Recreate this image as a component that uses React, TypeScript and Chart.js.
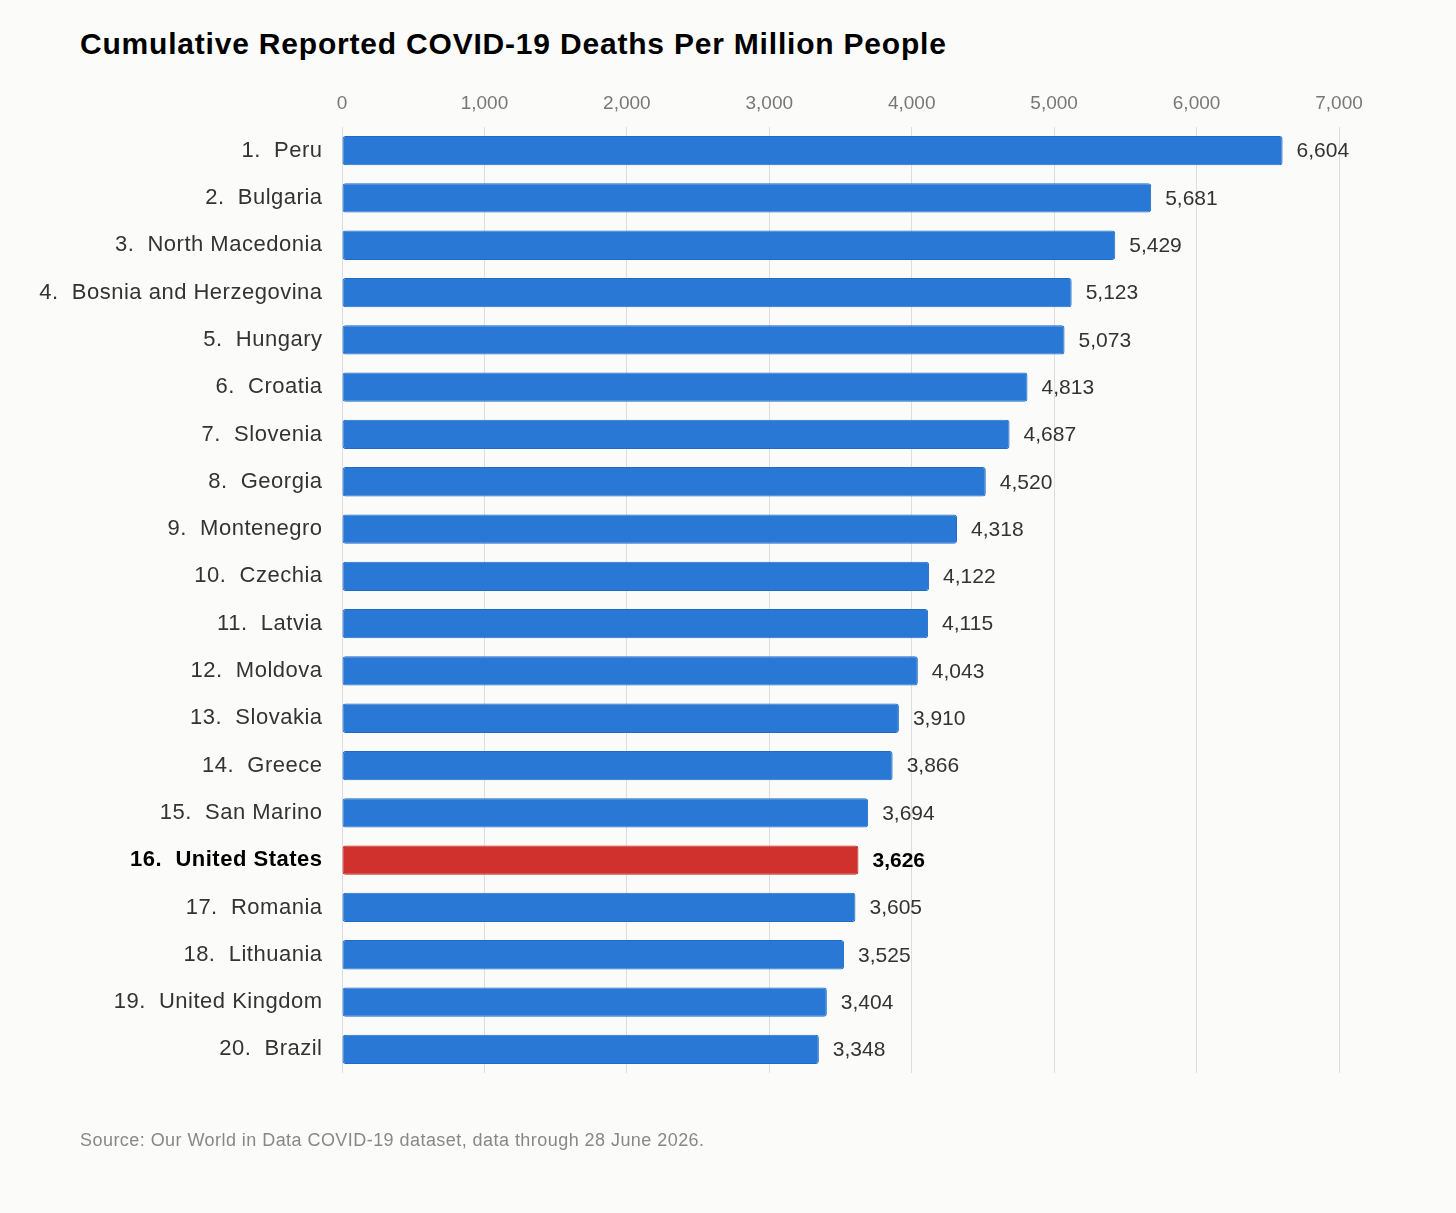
import { useEffect, useRef } from "react"
import { Chart, registerables } from "chart.js"

Chart.register(...registerables)

const countries = [
  "Peru",
  "Bulgaria",
  "North Macedonia",
  "Bosnia and Herzegovina",
  "Hungary",
  "Croatia",
  "Slovenia",
  "Georgia",
  "Montenegro",
  "Czechia",
  "Latvia",
  "Moldova",
  "Slovakia",
  "Greece",
  "San Marino",
  "United States",
  "Romania",
  "Lithuania",
  "United Kingdom",
  "Brazil",
]

const deathsPerMillion = [
  6604, 5681, 5429, 5123, 5073, 4813, 4687, 4520, 4318, 4122, 4115, 4043, 3910, 3866, 3694, 3626, 3605,
  3525, 3404, 3348,
]

const highlightCountry = "United States"

const xMax = 7000
const xStep = 1000

const FONT = "'Liberation Sans', Arial, Helvetica, sans-serif"
const BLUE = "#2a78d6"
const BLUE_EDGE = "#1f6cc8"
const RED = "#d0312d"
const RED_EDGE = "#b82622"

const labels = countries.map((c, i) => `${i + 1}.  ${c}`)
const highlightIndex = countries.indexOf(highlightCountry)

const fmt = (v: number) => v.toLocaleString("en-US")

// country labels are a touch more tracked than the numbers
const labelSpacing = {
  id: "labelSpacing",
  beforeDraw(chart: any) {
    chart.ctx.letterSpacing = "0.5px"
  },
  beforeDatasetsDraw(chart: any) {
    chart.ctx.letterSpacing = "0px"
  },
}

// draws the value next to each bar
const valueLabels = {
  id: "valueLabels",
  afterDatasetsDraw(chart: any) {
    const ctx = chart.ctx
    const meta = chart.getDatasetMeta(0)
    ctx.save()
    ctx.textBaseline = "middle"
    ctx.textAlign = "left"
    meta.data.forEach((bar: any, i: number) => {
      const isHi = i === highlightIndex
      ctx.font = `${isHi ? "bold " : ""}21px ${FONT}`
      ctx.fillStyle = isHi ? "#000" : "#333"
      ctx.fillText(fmt(deathsPerMillion[i]), bar.x + 14, bar.y + 1)
    })
    ctx.restore()
  },
}

export default function App() {
  const chartRef = useRef<HTMLCanvasElement>(null)
  const chartInstance = useRef<Chart | null>(null)

  useEffect(() => {
    if (!chartRef.current) return
    if (chartInstance.current) chartInstance.current.destroy()

    const ctx = chartRef.current.getContext("2d")
    if (!ctx) return

    chartInstance.current = new Chart(ctx, {
      type: "bar",
      data: {
        labels,
        datasets: [
          {
            data: deathsPerMillion,
            backgroundColor: deathsPerMillion.map((_, i) => (i === highlightIndex ? RED : BLUE)),
            borderColor: deathsPerMillion.map((_, i) => (i === highlightIndex ? RED_EDGE : BLUE_EDGE)),
            borderWidth: 1,
            borderRadius: 3,
            borderSkipped: false,
            categoryPercentage: 1,
            barPercentage: 0.62,
          },
        ],
      },
      options: {
        indexAxis: "y",
        responsive: true,
        maintainAspectRatio: false,
        animation: false,
        layout: {
          padding: { top: 80, right: 117, bottom: 140, left: 0 },
        },
        plugins: {
          legend: { display: false },
          tooltip: { enabled: false },
        },
        scales: {
          x: {
            position: "top",
            min: 0,
            max: xMax,
            afterFit: (scale: any) => {
              scale.height = 47
            },
            ticks: {
              z: 1,
              stepSize: xStep,
              padding: 12,
              color: "#777",
              font: { family: FONT, size: 19 },
              callback: (v: any) => fmt(Number(v)),
            },
            grid: { color: "#dddddd", lineWidth: 1, drawTicks: false },
            border: { display: false },
          },
          y: {
            afterFit: (scale: any) => {
              scale.width = 342
            },
            ticks: {
              padding: 19.5,
              color: (c: any) => (c.index === highlightIndex ? "#000" : "#333"),
              font: (c: any) => ({
                family: FONT,
                size: 22,
                weight: c.index === highlightIndex ? "bold" : "normal",
              }),
            },
            grid: { display: false, drawTicks: false },
            border: { display: false },
          },
        },
      },
      plugins: [labelSpacing, valueLabels],
    })

    return () => {
      if (chartInstance.current) {
        chartInstance.current.destroy()
        chartInstance.current = null
      }
    }
  }, [])

  return (
    <div
      style={{
        position: "fixed",
        left: 0,
        top: 0,
        width: 1456,
        height: 1213,
        background: "#fbfbf9",
        fontFamily: FONT,
      }}
    >
      <div
        style={{
          position: "absolute",
          left: 80,
          top: 26,
          fontSize: 30,
          fontWeight: "bold",
          letterSpacing: "0.8px",
          color: "#000",
          whiteSpace: "nowrap",
          lineHeight: "36px",
        }}
      >
        Cumulative Reported COVID-19 Deaths Per Million People
      </div>
      <div style={{ position: "absolute", left: 0, top: 0, width: 1456, height: 1213 }}>
        <canvas ref={chartRef} />
      </div>
      <div
        style={{
          position: "absolute",
          left: 80,
          top: 1129,
          fontSize: 18,
          letterSpacing: "0.45px",
          color: "#888",
          whiteSpace: "nowrap",
          lineHeight: "22px",
        }}
      >
        Source: Our World in Data COVID-19 dataset, data through 28 June 2026.
      </div>
    </div>
  )
}
